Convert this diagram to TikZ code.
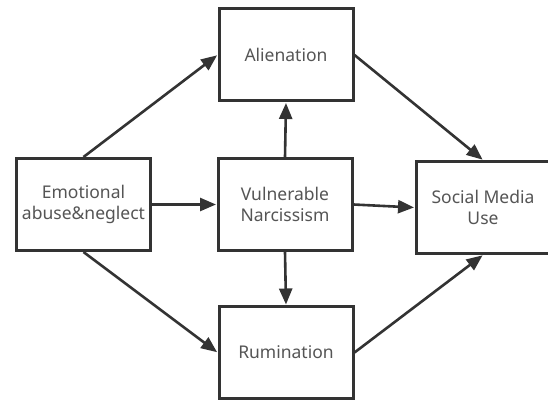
\documentclass[tikz,border=0pt]{standalone}
\usepackage{fontspec}
\setmainfont{Noto Sans}
\usetikzlibrary{arrows.meta}
\definecolor{boxline}{HTML}{333333}
\definecolor{txt}{HTML}{555555}
\tikzset{
  box/.style={draw=boxline, line width=3pt, fill=white, minimum width=134pt, minimum height=92pt,
    inner sep=0pt, align=center, text=txt, font=\fontsize{17.5}{21.5}\selectfont},
  arr/.style={draw=boxline, line width=2.6pt, -{Triangle[length=16pt,width=13pt]}, shorten >=0.5pt}
}
\begin{document}
\begin{tikzpicture}[x=1pt,y=-1pt]
\useasboundingbox (0,0) rectangle (548,401);
\node[box] (em) at (83.5,204.5) {Emotional\\abuse\&neglect};
\node[box] (al) at (286,55) {Alienation};
\node[box] (vn) at (285,204.5) {Vulnerable\\Narcissism};
\node[box] (sm) at (483,207.5) {Social Media\\Use};
\node[box] (ru) at (286,352.5) {Rumination};
\draw[arr] (em.north) -- (al.west);
\draw[arr] (em.south) -- (ru.west);
\draw[arr] (em.east) -- (vn.west);
\draw[arr] (vn.north) -- (al.south);
\draw[arr] (vn.south) -- (ru.north);
\draw[arr] (vn.east) -- (sm.west);
\draw[arr] (al.east) -- (sm.north);
\draw[arr] (ru.east) -- (sm.south);
\end{tikzpicture}
\end{document}
